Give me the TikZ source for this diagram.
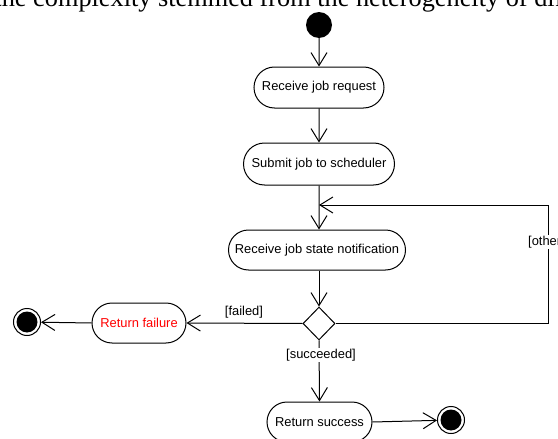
\documentclass[tikz,border=0pt]{standalone}
\usepackage{fontspec}
\setmainfont{Liberation Sans}
\newfontfamily\bodyserif{Liberation Serif}
\usetikzlibrary{arrows.meta,shapes.misc,shapes.geometric}

\tikzset{
  activity/.style={draw, line width=1pt, rounded rectangle, inner sep=0pt,
    minimum height=41pt, font=\fontsize{12.9}{15}\selectfont},
  arr/.style={draw, line width=1pt, -{Straight Barb[length=13pt,width=16pt,line width=1pt]}},
  guard/.style={font=\fontsize{12.9}{15}\selectfont, inner sep=1pt},
  startdot/.style={circle, fill=black, minimum size=26pt, inner sep=0pt},
  enddot/.style={circle, draw, line width=1pt, minimum size=27pt, inner sep=0pt,
    path picture={\fill (path picture bounding box.center) circle (10.5pt);}},
  decision/.style={diamond, draw, line width=1pt, minimum width=32pt, minimum height=33pt,
    inner sep=0pt, aspect=1, fill=white},
}

\begin{document}
\begin{tikzpicture}[x=1pt,y=-1pt]
  \useasboundingbox (0,0) rectangle (558,439);
  \clip (0,0) rectangle (558,439);

  % running text of the page above the figure
  \node[anchor=base west, inner sep=0pt, font=\bodyserif\fontsize{26.3}{31}\selectfont]
    (pagetext) at (-5.7,6) {the complexity stemmed from the heterogeneity of different};

  % nodes
  \node[startdot] (start) at (319,25) {};
  \node[activity, minimum width=130pt] (recv) at (319,87.5) {Receive job request};
  \node[activity, minimum width=151pt, minimum height=42pt] (submit) at (319,164) {Submit job to scheduler};
  \node[activity, minimum width=177pt, minimum height=40pt] (notify) at (317,250) {Receive job state notification};
  \node[decision] (dec) at (319,323.5) {};
  \node[activity, minimum width=94pt, minimum height=40pt, text=red] (fail) at (139,323) {Return failure};
  \node[enddot] (endL) at (27,322) {};
  \node[activity, minimum width=105pt, minimum height=40pt] (succ) at (319.5,422) {Return success};
  \node[enddot] (endR) at (451,420) {};

  \coordinate (loopC) at (548,205);
  \coordinate (join) at (319,205);

  % flows
  \draw[arr] (start) -- (recv);
  \draw[arr] (recv) -- (submit);
  \draw[arr] (submit) -- (submit |- notify.north);
  \draw[arr] (dec.east) -| (loopC) -- (join);
  \draw[arr] (notify.south -| dec) -- (dec.north);
  \draw[arr] (dec.west) -- (fail.east);
  \draw[arr] (fail.west) -- (endL);
  \draw[arr] (dec.south) -- (succ.north);
  \draw[arr] (succ.east) -- (endR);

  % guards
  \node[guard] (gfail) at (244,312) {[failed]};
  \node[guard, fill=white] (gsucc) at (321,355) {[succeeded]};
  \node[guard, fill=white, anchor=west] (gother) at (527,242) {[other]};
\end{tikzpicture}
\end{document}
